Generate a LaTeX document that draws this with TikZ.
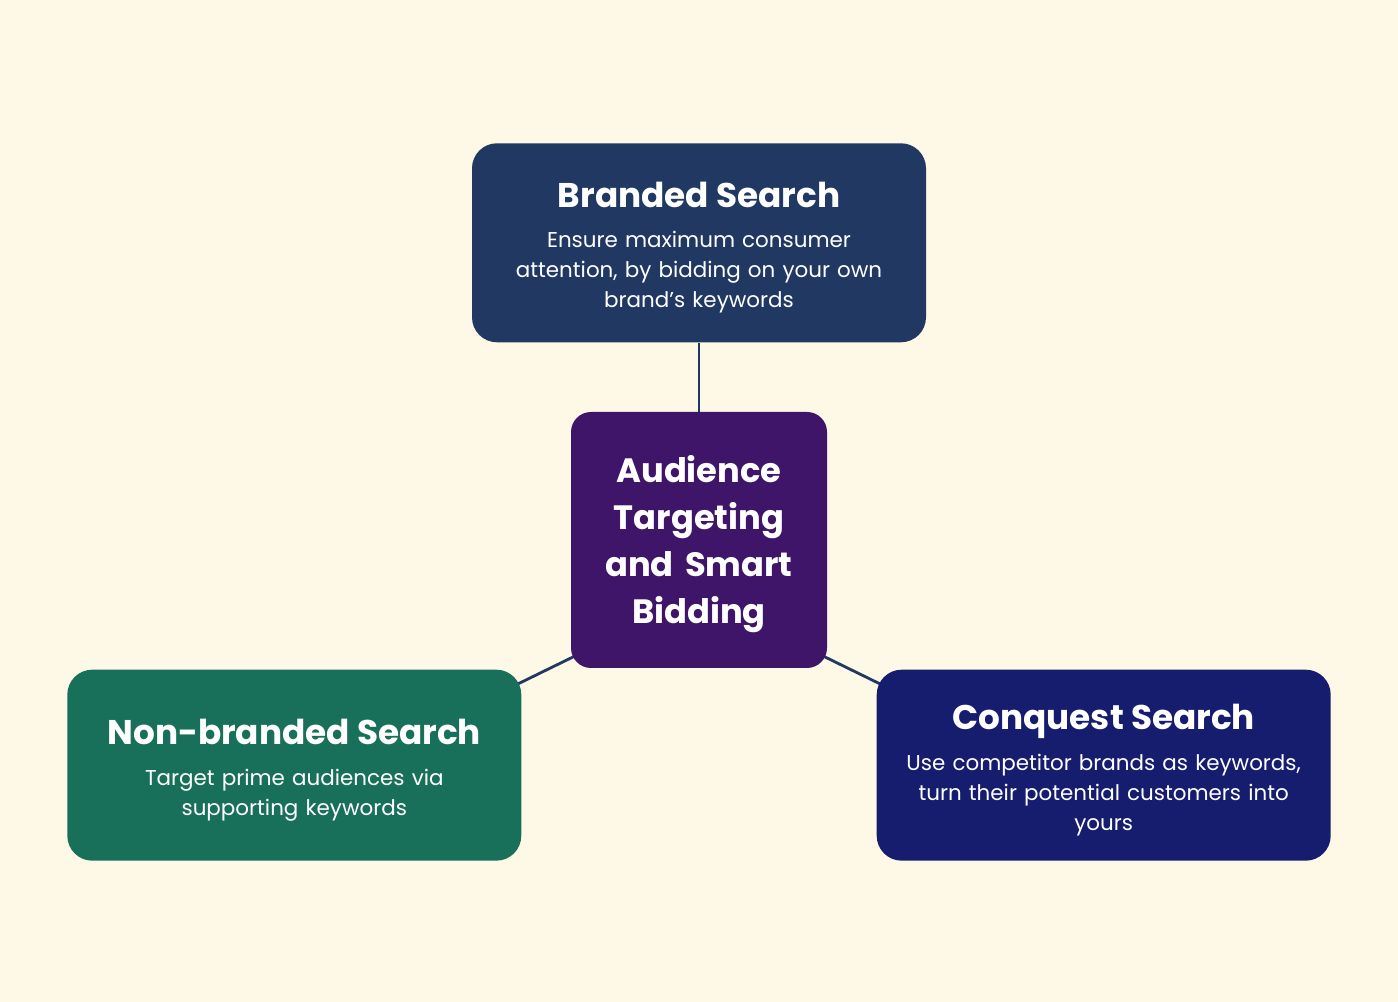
\documentclass[tikz,border=0pt]{standalone}
\usepackage{fontspec}
\setmainfont{Poppins}
\usetikzlibrary{positioning, backgrounds}
\definecolor{PageBg}{HTML}{FEF8E6}
\definecolor{BrandBlue}{HTML}{213862}
\definecolor{HubPurple}{HTML}{3E1568}
\definecolor{NonGreen}{HTML}{18705A}
\definecolor{ConqNavy}{HTML}{161C6E}
\newcommand{\headfont}{\bfseries\fontsize{19.5}{24}\selectfont}
\newcommand{\bodyfont}{\normalfont\fontsize{12.2}{17}\selectfont}
% 首行加高，使文字块略低于卡片中心
\newcommand{\topstrut}{\rule{0pt}{20pt}}

\begin{document}
\begin{tikzpicture}[
  every node/.style={align=center},
  card/.style={
    rectangle, rounded corners=0.5cm, text=white,
    minimum width=9.08cm, minimum height=3.82cm, inner sep=0pt,
    text width=8.4cm, font=\bodyfont
  },
  hubbox/.style={
    rectangle, rounded corners=0.4cm, fill=HubPurple, text=white,
    minimum width=5.12cm, minimum height=5.12cm, inner sep=0pt,
    text width=4.6cm, font=\bfseries\fontsize{19.2}{26.6}\selectfont
  },
  link/.style={draw=BrandBlue, line width=1.6pt}
]
% ================ 中心：Audience Targeting ================
\node[hubbox] (hub) at (13.98,9.24)
  {\topstrut Audience\\Targeting\\and Smart\\Bidding};

% ================ 上方：Branded Search ================
\node[card, fill=BrandBlue, minimum height=3.98cm, above=1.38cm of hub] (brand)
  {{\headfont\topstrut Branded Search}\\[6pt]
   Ensure maximum consumer\\attention, by bidding on your own\\brand’s keywords};

% ================ 左下：Non-branded Search ================
\node[card, fill=NonGreen, below left=0.02cm and 0.98cm of hub.south west] (nonb)
  {{\headfont\topstrut Non-branded Search}\\[6pt]
   Target prime audiences via\\supporting keywords};

% ================ 右下：Conquest Search ================
\node[card, fill=ConqNavy, below right=0.02cm and 0.98cm of hub.south east] (conq)
  {{\headfont\topstrut Conquest Search}\\[6pt]
   Use competitor brands as keywords,\\turn their potential customers into\\yours};

% ================ 背景与连线 ================
\begin{scope}[on background layer]
  \fill[PageBg] (0,0) rectangle (27.96,20.04);
  \draw[link] (brand.south) -- (hub.north);
  \draw[link] ([shift={(0.4,0.4)}]hub.south west) -- ([shift={(-0.5,-0.5)}]nonb.north east);
  \draw[link] ([shift={(-0.4,0.4)}]hub.south east) -- ([shift={(0.5,-0.5)}]conq.north west);
\end{scope}
\end{tikzpicture}
\end{document}
